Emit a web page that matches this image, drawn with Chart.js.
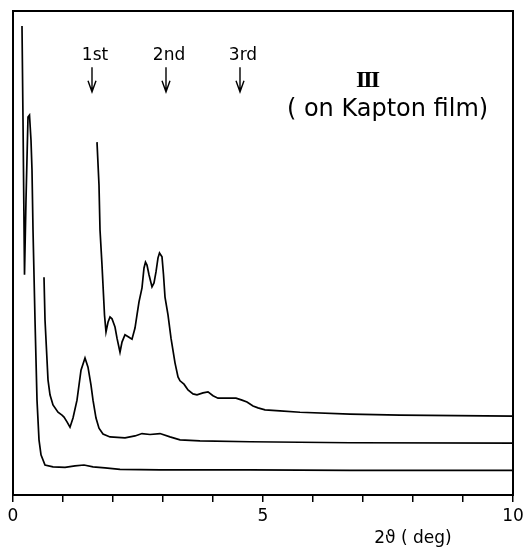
<!DOCTYPE html>
<html><head><meta charset="utf-8">
<script src="https://cdn.jsdelivr.net/npm/chart.js@4.4.0/dist/chart.umd.min.js"></script>
<style>html,body{margin:0;padding:0;background:#fff;} #c{display:block;}</style>
</head><body>
<canvas id="c" width="529" height="551"></canvas>
<script>
// 2θ (deg) and intensity (arbitrary units, curves offset)
const xBottom = [0.18,0.20,0.23,0.26,0.30,0.33,0.36,0.38,0.40,0.44,0.48,0.52,0.56,0.64,0.80,1.04,1.24,1.42,1.60,1.84,2.14,2.94,4.74,6.74,10.0];
const yBottom = [96.9,77.5,45.5,61.0,78.1,78.5,73.3,67.1,54.8,36.2,19.6,11.4,8.3,6.2,5.8,5.7,6.0,6.2,5.8,5.6,5.3,5.2,5.2,5.1,5.1];

const xMiddle = [0.62,0.64,0.67,0.70,0.74,0.80,0.90,0.98,1.02,1.08,1.14,1.20,1.28,1.36,1.44,1.50,1.56,1.60,1.66,1.72,1.80,1.94,2.24,2.44,2.58,2.74,2.94,3.14,3.34,3.74,4.74,6.74,10.0];
const yMiddle = [45.0,36.2,30.0,23.8,20.7,18.6,17.1,16.5,16.1,15.1,14.0,15.9,19.6,25.8,28.3,26.4,22.7,19.6,15.9,13.8,12.6,12.0,11.8,12.2,12.7,12.5,12.7,12.0,11.4,11.2,11.0,10.8,10.7];

const xTop = [1.68,1.72,1.74,1.78,1.80,1.83,1.86,1.90,1.94,1.98,2.04,2.08,2.14,2.18,2.24,2.32,2.38,2.44,2.48,2.52,2.58,2.62,2.65,2.68,2.72,2.78,2.82,2.86,2.90,2.93,2.98,3.01,3.04,3.10,3.16,3.24,3.30,3.34,3.42,3.50,3.60,3.68,3.80,3.90,4.00,4.10,4.30,4.46,4.58,4.68,4.80,4.90,5.04,5.34,5.74,6.74,7.74,10.0];
const yTop = [72.9,64.0,54.8,47.5,43.4,37.2,33.7,35.7,36.8,36.4,34.7,32.4,29.5,31.6,33.1,32.6,32.2,34.5,37.2,39.9,42.8,46.9,48.1,47.5,45.5,43.0,43.8,46.1,49.0,50.0,49.2,45.5,40.9,37.2,32.4,27.3,24.4,23.6,22.9,21.7,20.9,20.7,21.1,21.3,20.5,20.0,20.0,20.0,19.6,19.2,18.4,18.0,17.6,17.4,17.1,16.7,16.5,16.3];

const peakOrders = ['1st','2nd','3rd'];
const peakAngles = [1.58, 3.06, 4.54];
const xTickLabels = [0, 5, 10];

const FONT = '"DejaVu Sans", sans-serif';

function pts(xs, ys){ return xs.map((x,i)=>({x:x, y:ys[i]})); }

const annot = {
  id:'annot',
  afterDraw(chart){
    const ctx = chart.ctx, a = chart.chartArea;
    const xs = chart.scales.x, ys = chart.scales.y;
    ctx.save();
    // frame
    ctx.strokeStyle = '#000'; ctx.lineWidth = 2;
    ctx.strokeRect(a.left, a.top, a.right - a.left, a.bottom - a.top);
    // order markers
    ctx.fillStyle = '#000'; ctx.lineWidth = 1.4;
    ctx.textAlign = 'center'; ctx.textBaseline = 'middle';
    ctx.font = '17px ' + FONT;
    peakOrders.forEach((lab, i) => {
      const px = xs.getPixelForValue(peakAngles[i]);
      ctx.fillText(lab, px + 3, ys.getPixelForValue(90.7));
      const y0 = ys.getPixelForValue(88.4), y1 = ys.getPixelForValue(83.3);
      ctx.beginPath();
      ctx.moveTo(px, y0); ctx.lineTo(px, y1);
      ctx.moveTo(px - 4, y1 - 11); ctx.lineTo(px, y1); ctx.lineTo(px + 4, y1 - 11);
      ctx.stroke();
    });
    // sample label
    ctx.font = 'bold 24px "Liberation Serif", serif';
    ctx.letterSpacing = '-2px';
    ctx.fillText('III', xs.getPixelForValue(7.08), ys.getPixelForValue(85.5));
    ctx.letterSpacing = '0px';
    ctx.font = '24px ' + FONT;
    ctx.fillText('( on Kapton film)', xs.getPixelForValue(7.49), ys.getPixelForValue(79.5));
    // axis title
    ctx.font = '17px ' + FONT;
    ctx.fillText('2\u03D1 ( deg)', xs.getPixelForValue(8), a.bottom + 44);
    ctx.restore();
  }
};

const ds = (xs, ys) => ({ data: pts(xs, ys), borderColor:'#000', borderWidth:1.7, pointRadius:0, tension:0, fill:false });

new Chart(document.getElementById('c'), {
  type:'line',
  data:{ datasets:[ ds(xBottom,yBottom), ds(xMiddle,yMiddle), ds(xTop,yTop) ] },
  options:{
    responsive:false, animation:false, devicePixelRatio:1,
    layout:{ padding:{ left:13, right:16, top:11, bottom:0 } },
    plugins:{ legend:{display:false}, tooltip:{enabled:false} },
    scales:{
      x:{ type:'linear', min:0, max:10, position:'bottom',
        ticks:{ stepSize:1, autoSkip:false, maxRotation:0, color:'#000', padding:4,
          font:{ family:FONT, size:17 },
          callback:(v)=> xTickLabels.includes(v) ? String(v) : '' },
        grid:{ drawOnChartArea:false, drawTicks:true, tickLength:7, color:'#000', lineWidth:1.5 },
        border:{ display:true, color:'#000', width:2 },
        afterFit:(s)=>{ s.height = 56; } },
      y:{ display:false, min:0, max:100 }
    }
  },
  plugins:[annot]
});
</script>
</body></html>
